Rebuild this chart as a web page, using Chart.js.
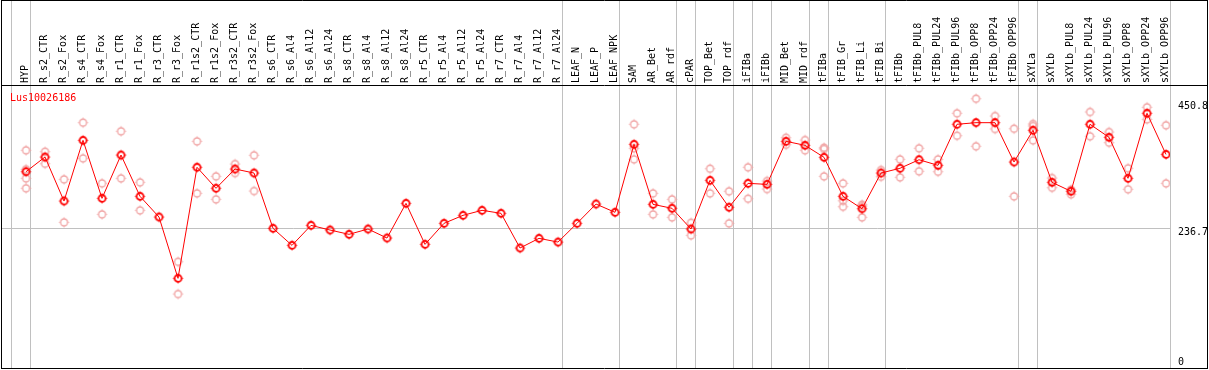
<!DOCTYPE html>
<html>
<head>
<meta charset="utf-8">
<script src="https://cdn.jsdelivr.net/npm/chart.js@4.4.1/dist/chart.umd.min.js"></script>
<style>
  html, body { margin: 0; padding: 0; background: #ffffff; }
  #wrap { width: 1209px; height: 370px; }
</style>
</head>
<body>
<div id="wrap"><canvas id="c" width="1209" height="370"></canvas></div>
<script>
const geneName = 'Lus10026186';

const categories = [
  'HYP', 'R_s2_CTR', 'R_s2_Fox', 'R_s4_CTR', 'R_s4_Fox', 'R_r1_CTR', 'R_r1_Fox', 'R_r3_CTR', 'R_r3_Fox',
  'R_r1s2_CTR', 'R_r1s2_Fox', 'R_r3s2_CTR', 'R_r3s2_Fox',
  'R_s6_CTR', 'R_s6_Al4', 'R_s6_Al12', 'R_s6_Al24', 'R_s8_CTR', 'R_s8_Al4', 'R_s8_Al12', 'R_s8_Al24',
  'R_r5_CTR', 'R_r5_Al4', 'R_r5_Al12', 'R_r5_Al24', 'R_r7_CTR', 'R_r7_Al4', 'R_r7_Al12', 'R_r7_Al24',
  'LEAF_N', 'LEAF_P', 'LEAF_NPK', 'SAM', 'AR_Bet', 'AR_rdf', 'cPAR', 'TOP_Bet', 'TOP_rdf',
  'iFIBa', 'iFIBb', 'MID_Bet', 'MID_rdf', 'tFIBa', 'tFIB_Gr', 'tFIB_Li', 'tFIB_Bi', 'tFIBb',
  'tFIBb_PUL8', 'tFIBb_PUL24', 'tFIBb_PUL96', 'tFIBb_OPP8', 'tFIBb_OPP24', 'tFIBb_OPP96',
  'sXYLa', 'sXYLb', 'sXYLb_PUL8', 'sXYLb_PUL24', 'sXYLb_PUL96', 'sXYLb_OPP8', 'sXYLb_OPP24', 'sXYLb_OPP96'
];

const meanValues = [
  332.6, 357.5, 282.9, 385.8, 287.5, 360.9, 290.9, 255.8, 151.9, 340.1, 304.5, 337.2, 330.4,
  236.7, 207.8, 241.7, 233.8, 226.5, 235.5, 220.2, 279.0, 209.5, 245.1, 258.7, 267.2, 262.1,
  203.3, 219.7, 213.4, 245.1, 277.8, 263.8,
  379.0, 277.3, 270.6, 235.5, 318.0, 272.3, 312.9, 311.2, 384.1, 377.3, 357.0, 290.9, 269.9,
  330.4, 338.4, 352.9, 343.4, 413.0, 415.7, 415.7, 349.0, 402.8, 314.6, 299.4, 413.0, 390.9,
  321.4, 431.6, 361.9
];

const replicateValues = [
  [368.9, 336.7, 321.4, 304.5], [366.5, 346.2], [319.7, 246.8], [415.7, 355.3], [312.9, 260.4],
  [401.1, 321.4], [314.6, 267.2], [], [180.0, 125.3], [384.1, 296.0], [324.8, 285.8],
  [345.6, 330.4], [360.4, 299.9],
  [], [], [], [], [], [], [], [], [], [], [], [], [], [], [], [], [], [], [],
  [413.0, 372.3, 353.6], [296.0, 260.4], [285.8, 255.3], [246.1, 224.8], [337.7, 296.0],
  [299.4, 245.1], [340.1, 286.8], [316.8, 303.3], [390.2, 378.4], [386.3, 368.9],
  [373.3, 371.1, 324.8], [312.9, 283.4, 273.3], [276.7, 274.4, 255.3], [335.5, 324.1],
  [353.6, 323.1], [372.3, 333.3], [353.6, 332.6], [431.6, 393.6], [456.3, 375.7],
  [427.0, 405.0], [405.5, 290.9], [413.5, 410.1, 385.8], [321.9, 305.5], [302.1, 294.3],
  [433.8, 392.6], [399.9, 381.8], [338.4, 302.8], [441.8, 421.4], [411.3, 312.9]
];

const yTickValues = [0, 236.7, 450.8];
const gridTickValue = 236.7;
const yMax = 477.85;

// index of the last category of each group (separator drawn right after it)
const groupEnds = [-1, 0, 28, 31, 34, 35, 37, 38, 39, 41, 42, 45, 52, 53, 60];

const RED = '#ff0000';
const PALE = '#f0a0a0';
const GRAY = '#c0c0c0';
const FONT = '"DejaVu Sans Mono", "Liberation Mono", monospace';

function makeMarker(color, lw) {
  const c = document.createElement('canvas');
  c.width = 13; c.height = 13;
  const g = c.getContext('2d');
  g.strokeStyle = color;
  g.lineWidth = lw;
  g.beginPath();
  g.arc(6.5, 6.5, 3.5, 0, Math.PI * 2);
  g.stroke();
  g.lineWidth = 1;
  g.beginPath();
  g.moveTo(6.5, 1.5); g.lineTo(6.5, 2.5);
  g.moveTo(6.5, 10.5); g.lineTo(6.5, 11.5);
  g.moveTo(1.5, 6.5); g.lineTo(2.5, 6.5);
  g.moveTo(10.5, 6.5); g.lineTo(11.5, 6.5);
  g.stroke();
  return c;
}
const mainMarker = makeMarker(RED, 1.8);
const paleMarker = makeMarker(PALE, 1.3);

const meanPoints = meanValues.map((v, i) => ({ x: i, y: v }));
const replicatePoints = [];
replicateValues.forEach((arr, i) => arr.forEach(v => replicatePoints.push({ x: i, y: v })));

const decor = {
  id: 'decor',
  beforeDatasetsDraw(chart) {
    const ctx = chart.ctx;
    const xs = chart.scales.x;
    ctx.save();
    ctx.strokeStyle = GRAY;
    ctx.lineWidth = 1;
    groupEnds.forEach(e => {
      const px = Math.round(xs.getPixelForValue(e + 0.22)) + 0.5;
      ctx.beginPath();
      ctx.moveTo(px, 0);
      ctx.lineTo(px, chart.chartArea.bottom);
      ctx.stroke();
    });
    ctx.restore();
  },
  afterDraw(chart) {
    const ctx = chart.ctx;
    ctx.save();
    ctx.strokeStyle = '#000000';
    ctx.lineWidth = 1;
    ctx.beginPath();
    ctx.moveTo(1, 0.5); ctx.lineTo(1208, 0.5);
    ctx.moveTo(1, 85.5); ctx.lineTo(1208, 85.5);
    ctx.moveTo(1, 368.5); ctx.lineTo(1208, 368.5);
    ctx.moveTo(1.5, 0); ctx.lineTo(1.5, 369);
    ctx.moveTo(1207.5, 0); ctx.lineTo(1207.5, 369);
    ctx.stroke();
    ctx.fillStyle = RED;
    ctx.font = '10px ' + FONT;
    ctx.textBaseline = 'alphabetic';
    ctx.textAlign = 'left';
    ctx.fillText(geneName, 10, 101);
    ctx.restore();
  }
};

Chart.defaults.font.family = FONT;
Chart.defaults.font.size = 10;
Chart.defaults.color = '#000000';

new Chart(document.getElementById('c'), {
  type: 'line',
  data: {
    datasets: [
      {
        data: meanPoints,
        borderColor: RED,
        borderWidth: 1,
        pointStyle: mainMarker,
        pointRadius: 5,
        fill: false,
        tension: 0,
        order: 0
      },
      {
        data: replicatePoints,
        showLine: false,
        borderColor: PALE,
        pointStyle: paleMarker,
        pointRadius: 5,
        order: 1
      }
    ]
  },
  options: {
    responsive: false,
    animation: false,
    devicePixelRatio: 1,
    layout: { autoPadding: false, padding: { left: 1, right: 0, top: 0, bottom: 2 } },
    plugins: { legend: { display: false }, tooltip: { enabled: false } },
    scales: {
      x: {
        type: 'linear',
        position: 'top',
        min: -1.3158,
        max: 60.2105,
        afterBuildTicks: s => { s.ticks = categories.map((_, i) => ({ value: i })); },
        afterFit: s => { s.height = 86; s.paddingLeft = 0; s.paddingRight = 0; s.paddingTop = 0; s.paddingBottom = 0; },
        grid: { display: false, drawTicks: false },
        border: { display: false },
        ticks: {
          autoSkip: false,
          minRotation: 90,
          maxRotation: 90,
          padding: 3,
          labelOffset: 11.5,
          color: '#000000',
          font: { family: FONT, size: 10 },
          callback: v => categories[v]
        }
      },
      y: {
        type: 'linear',
        position: 'right',
        min: 0,
        max: yMax,
        afterBuildTicks: s => { s.ticks = yTickValues.map(v => ({ value: v })); },
        afterFit: s => { s.width = 39; s.paddingLeft = 0; s.paddingRight = 0; s.paddingTop = 0; s.paddingBottom = 0; },
        grid: {
          drawTicks: false,
          color: c => (c.tick && c.tick.value === gridTickValue) ? GRAY : 'rgba(0,0,0,0)'
        },
        border: { display: false },
        ticks: {
          autoSkip: false,
          padding: 8,
          labelOffset: 4,
          color: '#000000',
          font: { family: FONT, size: 10, lineHeight: 2 },
          // the bottom label is lifted above the frame with an empty second line
          callback: v => (v === 0 ? ['0', ''] : String(v))
        }
      }
    }
  },
  plugins: [decor]
});
</script>
</body>
</html>
